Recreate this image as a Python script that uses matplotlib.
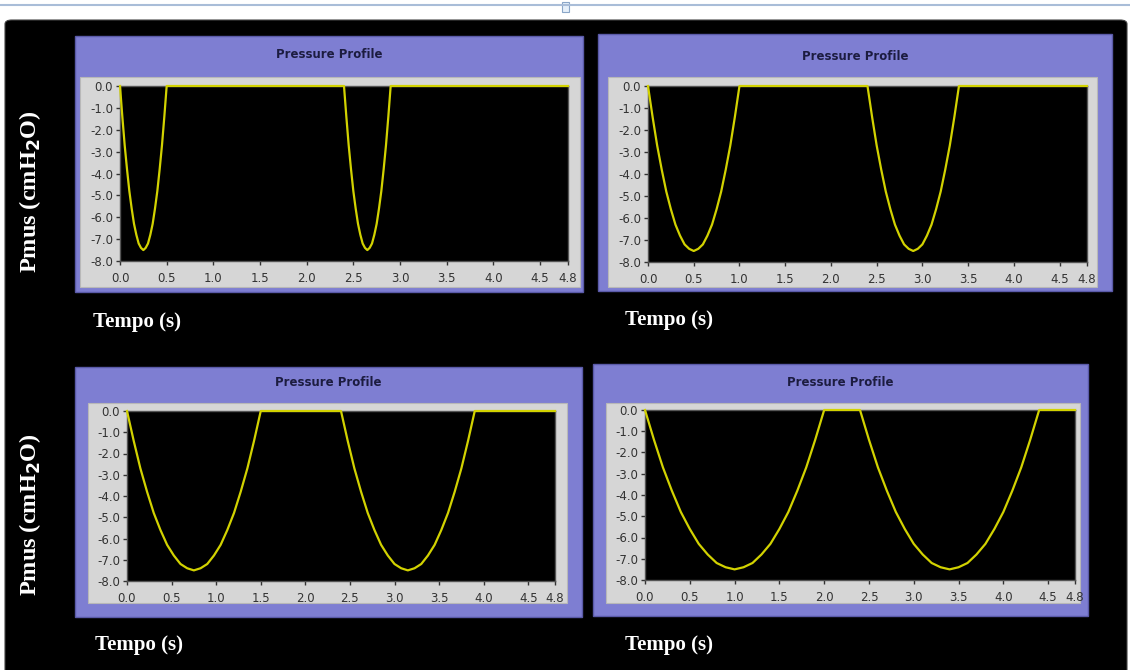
import matplotlib
matplotlib.use("Agg")
import matplotlib.pyplot as plt
from matplotlib.patches import Rectangle, FancyBboxPatch

# pressure read along one inspiratory effort (cmH2O), same shape in every panel
breath_p = [0.0, -1.4, -2.7, -3.8, -4.8, -5.6, -6.3, -6.8, -7.2, -7.4, -7.5,
            -7.4, -7.2, -6.8, -6.3, -5.6, -4.8, -3.8, -2.7, -1.4, 0.0]

# time stamps (s) of the two efforts in each panel
t_a1 = [0.0, 0.025, 0.05, 0.075, 0.1, 0.125, 0.15, 0.175, 0.2, 0.225, 0.25,
        0.275, 0.3, 0.325, 0.35, 0.375, 0.4, 0.425, 0.45, 0.475, 0.5]
t_a2 = [2.4, 2.425, 2.45, 2.475, 2.5, 2.525, 2.55, 2.575, 2.6, 2.625, 2.65,
        2.675, 2.7, 2.725, 2.75, 2.775, 2.8, 2.825, 2.85, 2.875, 2.9]
t_b1 = [0.0, 0.05, 0.1, 0.15, 0.2, 0.25, 0.3, 0.35, 0.4, 0.45, 0.5,
        0.55, 0.6, 0.65, 0.7, 0.75, 0.8, 0.85, 0.9, 0.95, 1.0]
t_b2 = [2.4, 2.45, 2.5, 2.55, 2.6, 2.65, 2.7, 2.75, 2.8, 2.85, 2.9,
        2.95, 3.0, 3.05, 3.1, 3.15, 3.2, 3.25, 3.3, 3.35, 3.4]
t_c1 = [0.0, 0.075, 0.15, 0.225, 0.3, 0.375, 0.45, 0.525, 0.6, 0.675, 0.75,
        0.825, 0.9, 0.975, 1.05, 1.125, 1.2, 1.275, 1.35, 1.425, 1.5]
t_c2 = [2.4, 2.475, 2.55, 2.625, 2.7, 2.775, 2.85, 2.925, 3.0, 3.075, 3.15,
        3.225, 3.3, 3.375, 3.45, 3.525, 3.6, 3.675, 3.75, 3.825, 3.9]
t_d1 = [0.0, 0.1, 0.2, 0.3, 0.4, 0.5, 0.6, 0.7, 0.8, 0.9, 1.0,
        1.1, 1.2, 1.3, 1.4, 1.5, 1.6, 1.7, 1.8, 1.9, 2.0]
t_d2 = [2.4, 2.5, 2.6, 2.7, 2.8, 2.9, 3.0, 3.1, 3.2, 3.3, 3.4,
        3.5, 3.6, 3.7, 3.8, 3.9, 4.0, 4.1, 4.2, 4.3, 4.4]
t_end = 4.8

x_ticks = [0.0, 0.5, 1.0, 1.5, 2.0, 2.5, 3.0, 3.5, 4.0, 4.5, 4.8]
x_labels = ["0.0", "0.5", "1.0", "1.5", "2.0", "2.5", "3.0", "3.5", "4.0", "4.5", "4.8"]
y_ticks = [0.0, -1.0, -2.0, -3.0, -4.0, -5.0, -6.0, -7.0, -8.0]
y_labels = ["0.0", "-1.0", "-2.0", "-3.0", "-4.0", "-5.0", "-6.0", "-7.0", "-8.0"]

series = [(t_a1, t_a2), (t_b1, t_b2), (t_c1, t_c2), (t_d1, t_d2)]

W, H = 1130, 670
PURPLE = "#7e7ed2"
GRAY = "#d6d6d6"
YELLOW = "#d2d200"


def box(x0, y0, x1, y1):
    # pixel box (origin top-left) -> figure fraction rect
    return [x0 / W, 1 - y1 / H, (x1 - x0) / W, (y1 - y0) / H]


fig = plt.figure(figsize=(W / 100, H / 100), dpi=100)
fig.patch.set_facecolor("white")

# word-processor ruler line at the top
fig.add_artist(plt.Line2D([0, 1], [1 - 5 / H, 1 - 5 / H], color="#a9bdd8", lw=1.5))
fig.add_artist(Rectangle((562 / W, 1 - 12 / H), 7 / W, 10 / H, transform=fig.transFigure,
                         facecolor="#e6f0fa", edgecolor="#8aa6c8", lw=0.8))

# black background
bg = box(5, 20, 1127, 680)
fig.add_artist(FancyBboxPatch((bg[0], bg[1]), bg[2], bg[3], boxstyle="round,pad=0,rounding_size=0.006",
                              transform=fig.transFigure, facecolor="black", edgecolor="#444444", lw=0.8))

layout = [
    dict(purple=(75, 36, 583, 292), frame=(80, 77, 580, 287), plot=(120, 86, 568, 261),
         title_y=55, tempo=(93, 322)),
    dict(purple=(598, 34, 1112, 291), frame=(608, 77, 1097, 287), plot=(648, 86, 1087, 262),
         title_y=56, tempo=(625, 320)),
    dict(purple=(75, 367, 582, 617), frame=(88, 403, 567, 603), plot=(127, 411, 555, 581),
         title_y=383, tempo=(95, 645)),
    dict(purple=(593, 364, 1088, 616), frame=(606, 403, 1080, 603), plot=(645, 410, 1075, 580),
         title_y=382, tempo=(625, 645)),
]

for (tb1, tb2), lay in zip(series, layout):
    p = lay["purple"]
    r = box(*p)
    fig.add_artist(Rectangle((r[0], r[1]), r[2], r[3], transform=fig.transFigure,
                             facecolor=PURPLE, edgecolor="#5a5aa8", lw=1))
    f = box(*lay["frame"])
    fig.add_artist(Rectangle((f[0], f[1]), f[2], f[3], transform=fig.transFigure,
                             facecolor=GRAY, edgecolor="#b8b8b8", lw=0.8))
    fig.text((p[0] + p[2]) / 2 / W, 1 - lay["title_y"] / H, "Pressure Profile",
             ha="center", va="center", fontsize=8.5, fontweight="bold",
             color="#1c1c40", family="DejaVu Sans")

    ax = fig.add_axes(box(*lay["plot"]))
    ax.set_zorder(5)
    ax.set_facecolor("black")
    t = tb1 + tb2 + [t_end]
    pr = breath_p + breath_p + [0.0]
    ax.plot(t, pr, color=YELLOW, lw=1.6, clip_on=False, solid_joinstyle="round", zorder=4)
    ax.set_xlim(0, 4.8)
    ax.set_ylim(-8, 0)
    ax.set_xticks(x_ticks)
    ax.set_xticklabels(x_labels)
    ax.set_yticks(y_ticks)
    ax.set_yticklabels(y_labels)
    ax.tick_params(direction="out", length=3, width=1, color="#333333",
                   labelcolor="#333333", labelsize=8.5, pad=2)
    ax.tick_params(axis="x", pad=5)
    for s in ax.spines.values():
        s.set_color("#555555")
        s.set_linewidth(1)

    fig.text(lay["tempo"][0] / W, 1 - lay["tempo"][1] / H, "Tempo (s)", ha="left", va="center",
             fontsize=15, fontweight="bold", color="white", family="Liberation Serif")

for yc in (192, 515):
    fig.text(30 / W, 1 - yc / H, "Pmus (cmH$_\\mathbf{2}$O)", rotation=90, ha="center", va="center",
             fontsize=17.5, fontweight="bold", color="white", family="Liberation Serif")

fig.savefig("out.png", dpi=100)
